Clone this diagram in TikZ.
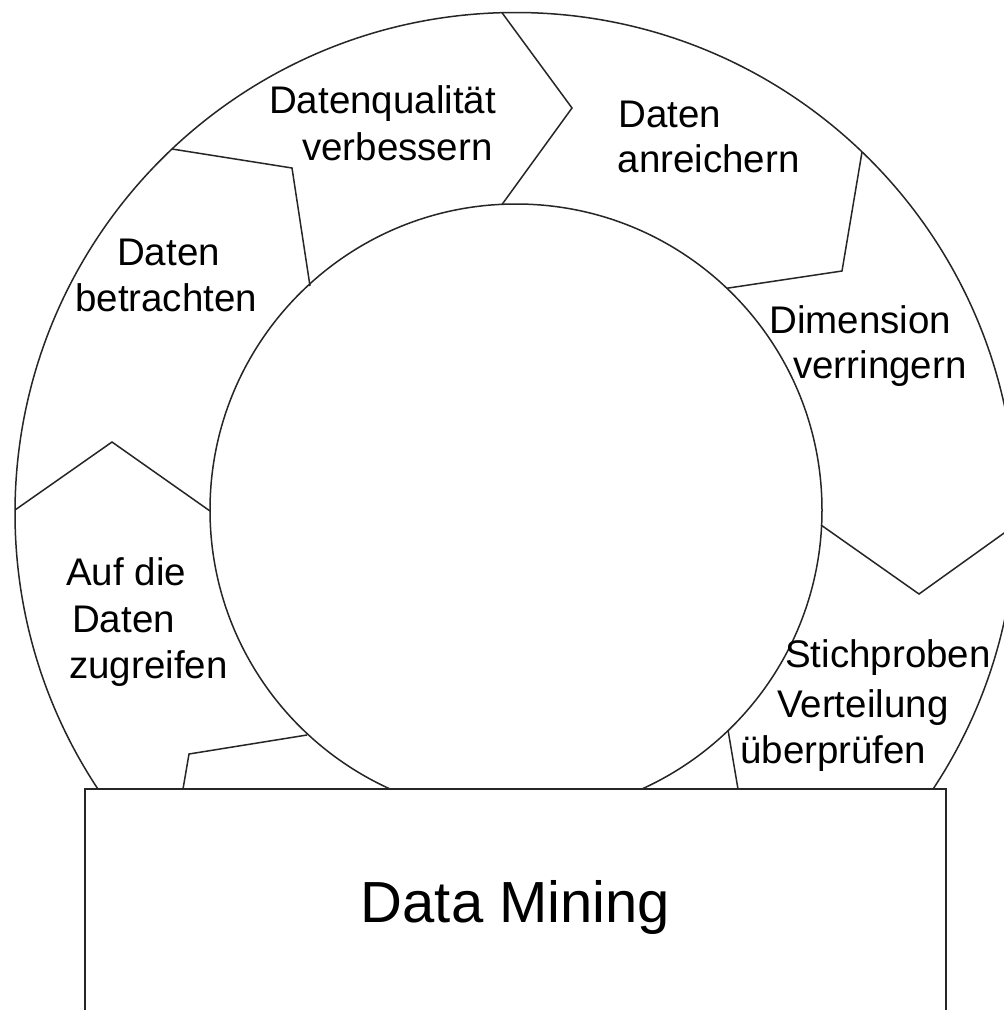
\documentclass[tikz,border=0pt]{standalone}
\usepackage{fontspec}
\setmainfont{Liberation Sans}
\begin{document}
\begin{tikzpicture}[x=1pt,y=-1pt,
  ring/.style={draw=black!85, line width=1.5pt},
  divider/.style={draw=black!85, line width=1.5pt, line join=miter},
  lbl/.style={anchor=base west, inner sep=0pt, font=\fontsize{38.5}{46}\selectfont},
  title/.style={anchor=base, inner sep=0pt, font=\fontsize{58}{70}\selectfont}]
\useasboundingbox (0,0) rectangle (1004,1010);
\clip (0,0) rectangle (1004,1010);
\fill[white] (0,0) rectangle (1004,1010);
% rings
\draw[ring] (515.5,513) circle[radius=500.5pt];
\draw[ring] (516,510) circle[radius=306pt];
% divider coordinates
\coordinate (s1o) at (502,12.7);   \coordinate (s1t) at (572,108);  \coordinate (s1i) at (502,204.5);
\coordinate (s2o) at (172,149);    \coordinate (s2t) at (292,168);  \coordinate (s2i) at (310,286);
\coordinate (s3o) at (862,152);    \coordinate (s3t) at (842,271);  \coordinate (s3i) at (726.5,288.3);
\coordinate (s4o) at (15,510);     \coordinate (s4t) at (112,442);  \coordinate (s4i) at (210,511);
\coordinate (s5i) at (821,525);    \coordinate (s5t) at (919,594);  \coordinate (s5o) at (1016,524.5);
\coordinate (s6i) at (307,735);    \coordinate (s6t) at (189,754);  \coordinate (s6b) at (183,789);
\coordinate (s7i) at (728,730);    \coordinate (s7b) at (738,789);
\draw[divider] (s1o) -- (s1t) -- (s1i);
\draw[divider] (s2o) -- (s2t) -- (s2i);
\draw[divider] (s3o) -- (s3t) -- (s3i);
\draw[divider] (s4o) -- (s4t) -- (s4i);
\draw[divider] (s5i) -- (s5t) -- (s5o);
\draw[divider] (s6i) -- (s6t) -- (s6b);
\draw[divider] (s7i) -- (s7b);
% base box
\draw[draw=black!85, line width=2pt, fill=white] (85,789) rectangle (946,1040);
\node[title] (dm) at (515.5,922) {Data Mining};
% labels
\node[lbl] (q1) at (269,113) {Datenqualität};
\node[lbl] (q2) at (302,160) {verbessern};
\node[lbl] (a1) at (618,127) {Daten};
\node[lbl] (a2) at (617.5,172) {anreichern};
\node[lbl] (d1) at (769,333) {Dimension};
\node[lbl] (d2) at (793,378) {verringern};
\node[lbl] (b1) at (117,265) {Daten};
\node[lbl] (b2) at (75,311) {betrachten};
\node[lbl] (z1) at (66,585) {Auf die};
\node[lbl] (z2) at (72,632) {Daten};
\node[lbl] (z3) at (69,678) {zugreifen};
\node[lbl] (v1) at (785,667) {Stichproben};
\node[lbl] (v2) at (777,717) {Verteilung};
\node[lbl] (v3) at (740,763) {überprüfen};
\end{tikzpicture}
\end{document}
